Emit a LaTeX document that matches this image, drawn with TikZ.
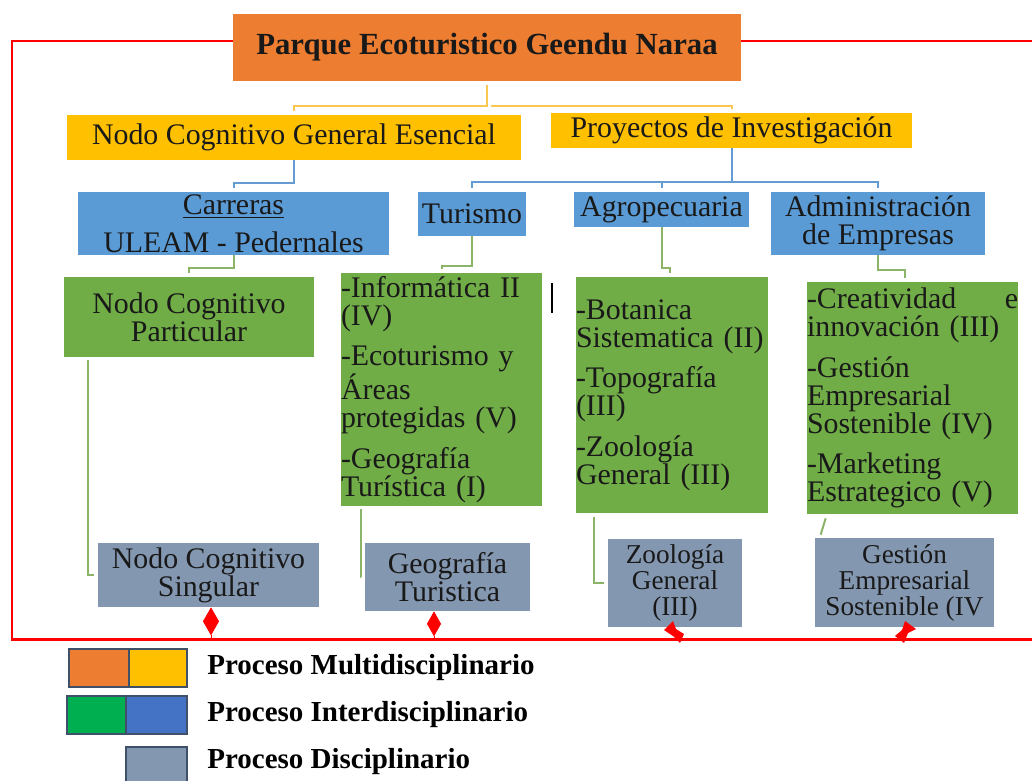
\documentclass[tikz,border=0pt]{standalone}
\usepackage{fontspec}
\setmainfont{Liberation Serif}
\usetikzlibrary{arrows.meta}
\definecolor{ecoorange}{RGB}{237,125,49}
\definecolor{ecoyellow}{RGB}{255,192,0}
\definecolor{ecoblue}{RGB}{91,155,213}
\definecolor{ecogreen}{RGB}{112,173,71}
\definecolor{ecogray}{RGB}{132,151,176}
\definecolor{leggreen}{RGB}{0,176,80}
\definecolor{legblue}{RGB}{68,114,196}
\definecolor{legline}{RGB}{65,80,105}
\definecolor{ecotext}{RGB}{25,25,25}
\definecolor{yline}{RGB}{250,200,80}
\definecolor{bline}{RGB}{100,155,210}
\definecolor{gline}{RGB}{140,180,105}

\begin{document}
\begin{tikzpicture}[x=0.02cm,y=-0.02cm]

%
% Styles
%
\tikzstyle{ecobox}    = [rectangle,inner sep=0pt,text=ecotext,align=center,font=\fontsize{17}{16}\selectfont]
\tikzstyle{orangebox} = [ecobox,fill=ecoorange,font=\bfseries\fontsize{17.5}{16}\selectfont]
\tikzstyle{yellowbox} = [ecobox,fill=ecoyellow]
\tikzstyle{bluebox}   = [ecobox,fill=ecoblue]
\tikzstyle{greenbox}  = [ecobox,fill=ecogreen]
\tikzstyle{listbox}   = [ecobox,fill=ecogreen,align=left]
\tikzstyle{graybox}   = [ecobox,fill=ecogray]
\tikzstyle{smallgray} = [graybox,font=\fontsize{15.5}{14.8}\selectfont]
\tikzstyle{yedge}     = [draw=yline,line width=0.04cm,shorten <=0.08cm,shorten >=0.08cm]
\tikzstyle{bedge}     = [draw=bline,line width=0.04cm,shorten >=0.08cm]
\tikzstyle{gedge}     = [draw=gline,line width=0.04cm,shorten >=0.08cm]
\tikzstyle{redframe}  = [draw=red,line width=0.06cm]
\tikzstyle{redtip}    = [draw=red,line width=0.4pt]
\tikzstyle{legbox}    = [rectangle,draw=legline,line width=0.03cm,inner sep=0pt]
\tikzstyle{legtext}   = [anchor=west,inner sep=0pt,font=\bfseries\fontsize{16.5}{16}\selectfont]

\useasboundingbox (0,0) rectangle (1032,781);
\clip (0,0) rectangle (1032,781);

% red frame
\draw[redframe] (1045,41) -- (12,41) -- (12,639) -- (1045,639);

% top levels
\node[orangebox,minimum width=10.16cm,minimum height=1.34cm] (parque) at (487,47.5) {Parque Ecoturistico Geendu Naraa};
\node[yellowbox,minimum width=9.08cm,minimum height=0.9cm] (nodogen) at (294,137.5) {Nodo Cognitivo General Esencial};
\node[yellowbox,minimum width=7.22cm,minimum height=0.7cm] (proyectos) at (731.5,130.5) {Proyectos de Investigación};

\node[bluebox,minimum width=6.22cm,minimum height=1.26cm] (carreras) at (233.5,223.5) {\underline{Carreras}\\[5.5pt]ULEAM - Pedernales};
\node[bluebox,minimum width=2.16cm,minimum height=0.88cm] (turismo) at (472,214) {Turismo};
\node[bluebox,minimum width=3.5cm,minimum height=0.7cm] (agro) at (661.5,209.5) {Agropecuaria};
\node[bluebox,minimum width=4.28cm,minimum height=1.26cm] (admin) at (878,223.5) {Administración\\de Empresas};

% green level
\node[greenbox,minimum width=5cm,minimum height=1.6cm] (nodopart) at (189,317) {Nodo Cognitivo\\Particular};
\node[listbox,text width=4.02cm,minimum height=4.66cm] (turlist) at (441.5,389.5)
  {-Informática II\\(IV)\\[7pt]-Ecoturismo y\\Áreas\\protegidas (V)\\[7pt]-Geografía\\Turística (I)};
\node[listbox,text width=3.84cm,minimum height=4.72cm] (agrolist) at (672,395)
  {-Botanica\\Sistematica (II)\\[7pt]-Topografía\\(III)\\[7pt]-Zoología\\General (III)};
\node[listbox,text width=4.22cm,minimum height=4.64cm] (adminlist) at (912.5,398)
  {-Creatividad\hfill e\\innovación (III)\\[7pt]-Gestión\\Empresarial\\Sostenible (IV)\\[7pt]-Marketing\\Estrategico (V)};

% gray level
\node[graybox,minimum width=4.42cm,minimum height=1.28cm] (nodosing) at (208.5,575) {Nodo Cognitivo\\Singular};
\node[graybox,minimum width=3.3cm,minimum height=1.36cm] (geo) at (447.5,577) {Geografía\\Turistica};
\node[smallgray,minimum width=2.68cm,minimum height=1.76cm] (zoo) at (675,583) {Zoología\\General\\(III)};
\node[smallgray,minimum width=3.58cm,minimum height=1.78cm] (gestion) at (904.5,582.5) {Gestión\\Empresarial\\Sostenible (IV};

% connectors
\draw[yedge] (parque.south) -- ++(0,25) -| (nodogen.north);
\draw[yedge] (parque.south) ++(0,25) -| (proyectos.north);

\draw[bedge] (nodogen.south) -- ++(0,23) -| (carreras.north);
\draw[bedge] (proyectos.south) -- ++(0,34) coordinate (bus) -| (turismo.north);
\draw[bedge] (bus) -| (agro.north);
\draw[bedge] (bus) -| (admin.north);

\draw[gedge] (carreras.south) -- ++(0,13) -| (nodopart.north);
\draw[gedge] (turismo.south) -- ++(0,30) -| (turlist.north);
\draw[gedge] (agro.south) -- ++(0,41) -| ([xshift=-0.04cm]agrolist.north);
\draw[gedge] (admin.south) -- ++(0,15) -| ([xshift=-0.15cm]adminlist.north);

\draw[gedge] ([xshift=0.48cm,yshift=-0.06cm]nodopart.south west) |- (nodosing.west);
\draw[gedge] ([xshift=0.4cm,yshift=-0.06cm]turlist.south west) |- (geo.west);
\draw[gedge] ([xshift=0.36cm,yshift=-0.08cm]agrolist.south west) |- (zoo.west);
\draw[gedge,shorten >=0pt] ([xshift=0.38cm,yshift=-0.08cm]adminlist.south west) -- ([xshift=0.12cm,yshift=0.06cm]gestion.north west);

% red tips on the frame
\coordinate (tipa) at (211,639);
\coordinate (tipb) at (434,639);
\draw[redtip,-{Diamond[length=0.56cm,width=0.32cm,fill=red]}] (tipa) -- (tipa |- nodosing.south);
\draw[redtip,-{Diamond[length=0.5cm,width=0.28cm,fill=red]}] (tipb) -- (tipb |- geo.south);
\fill[red] (664,630) -- (673,621) -- (676,629) -- (684,634) -- (680,643) -- (673,636) -- cycle;
\fill[red] (905,621) -- (916,629) -- (908,633) -- (904,643) -- (895,636) -- (902,630) -- cycle;

\draw[black,line width=0.03cm] (552,283) -- (552,313);

% legend
\node[legbox,fill=ecoorange,minimum width=1.2cm,minimum height=0.76cm] (legorange) at (99,668) {};
\node[legbox,fill=ecoyellow,minimum width=1.16cm,minimum height=0.76cm] (legyellow) at (158,668) {};
\node[legbox,fill=leggreen,minimum width=1.18cm,minimum height=0.76cm] (leggreenbox) at (96.5,715) {};
\node[legbox,fill=legblue,minimum width=1.22cm,minimum height=0.76cm] (legbluebox) at (156.5,715) {};
\node[legbox,fill=ecogray,minimum width=1.22cm,minimum height=0.96cm] (leggray) at (156.5,771) {};

\node[legtext] (multi) at (207,668) {Proceso Multidisciplinario};
\node[legtext] (inter) at (207,715) {Proceso Interdisciplinario};
\node[legtext] (disc)  at (207,762) {Proceso Disciplinario};

\end{tikzpicture}
\end{document}
